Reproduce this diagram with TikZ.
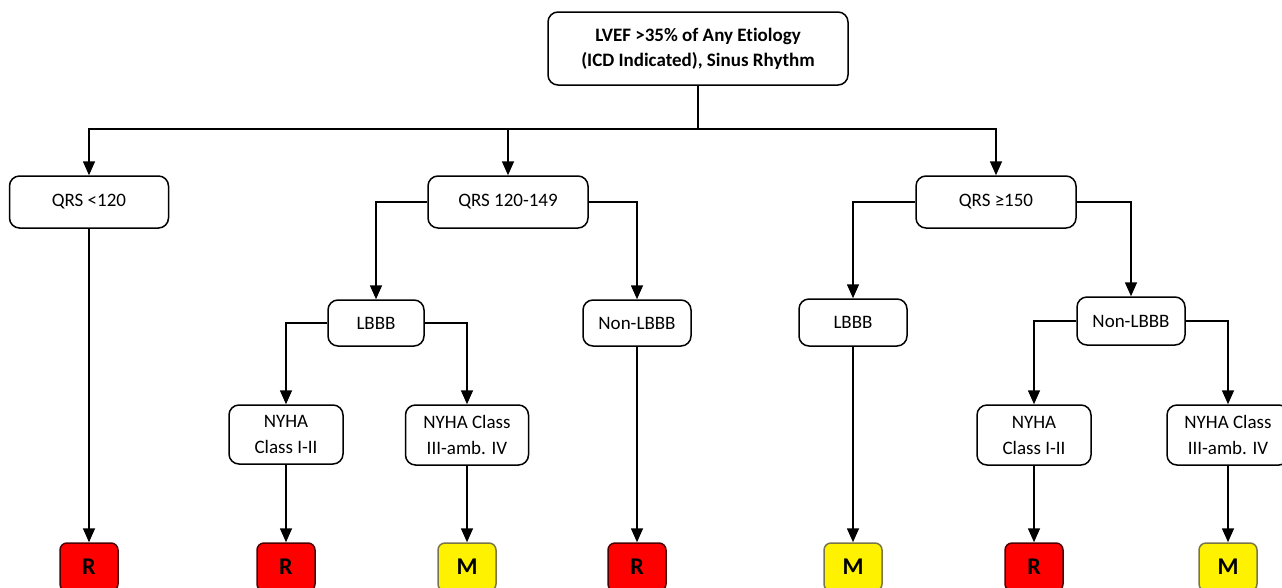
\documentclass[tikz,border=0pt]{standalone}
\usepackage{fontspec}
\setmainfont{Carlito}[RawFeature=-liga]
\usetikzlibrary{arrows.meta}
\begin{document}
\begin{tikzpicture}[x=1pt,y=-1pt,
  box/.style={draw, line width=1.5pt, rounded corners=10pt, fill=white, align=center,
    inner sep=0pt, font=\fontsize{19}{23}\selectfont},
  outr/.style={draw=black!70!red, line width=1.5pt, rounded corners=7pt, fill=red,
    minimum width=58pt, minimum height=48pt, inner sep=0pt, font=\fontsize{24}{26}\selectfont\bfseries},
  outm/.style={outr, draw=black!60!yellow, fill=yellow},
  link/.style={line width=1.6pt},
  arr/.style={link, -{Triangle[length=14pt,width=12pt]}}]
\useasboundingbox (0,0) rectangle (1282,587);
\begin{scope}
\clip (0,0) rectangle (1282,587);
\node[box, minimum width=300pt, minimum height=73pt, font=\fontsize{19}{25}\selectfont\bfseries] (top) at (698,48.5) {LVEF >35\% of Any Etiology\\(ICD Indicated), Sinus Rhythm};
\coordinate (hub) at (698,129);
\node[box, minimum width=159pt, minimum height=52pt] (q1) at (89,202) {QRS <120};
\node[box, minimum width=160pt, minimum height=52pt] (q2) at (508,202) {QRS 120-149};
\node[box, minimum width=160pt, minimum height=52pt] (q3) at (996,202) {QRS ≥150};
\node[box, minimum width=96pt, minimum height=46pt] (lb1) at (376,323) {LBBB};
\node[box, minimum width=108pt, minimum height=46pt] (nl1) at (637,323) {Non-LBBB};
\node[box, minimum width=108pt, minimum height=47pt] (lb2) at (853,322.5) {LBBB};
\node[box, minimum width=108pt, minimum height=48pt] (nl2) at (1131,321) {Non-LBBB};
\node[box, minimum width=114pt, minimum height=59pt, font=\fontsize{19}{26}\selectfont] (ny1) at (286,434.5) {NYHA\\Class I-II};
\node[box, minimum width=123pt, minimum height=60pt, font=\fontsize{19}{26}\selectfont] (ny2) at (467,435) {NYHA Class\\III-amb. IV};
\node[box, minimum width=114pt, minimum height=60pt, font=\fontsize{19}{26}\selectfont] (ny3) at (1034,435) {NYHA\\Class I-II};
\node[box, minimum width=122pt, minimum height=60pt, font=\fontsize{19}{26}\selectfont] (ny4) at (1228,435) {NYHA Class\\III-amb. IV};
\node[outr] (o1) at (89,567) {R};
\node[outr] (o2) at (286,567) {R};
\node[outm] (o3) at (467,567) {M};
\node[outr] (o4) at (637,567) {R};
\node[outm] (o5) at (853,567) {M};
\node[outr] (o6) at (1034,567) {R};
\node[outm] (o7) at (1228,567) {M};
\draw[link] (top.south) -- (hub);
\draw[arr] (hub) -| (q1.north);
\draw[arr] (hub) -| (q2.north);
\draw[arr] (hub) -| (q3.north);
\draw[arr] (q1.south) -- (o1.north);
\draw[arr] (q2.west) -| (lb1.north);
\draw[arr] (q2.east) -| (nl1.north);
\draw[arr] (q3.west) -| (lb2.north);
\draw[arr] (q3.east) -| (nl2.north);
\draw[arr] (lb1.west) -| (ny1.north);
\draw[arr] (lb1.east) -| (ny2.north);
\draw[arr] (nl2.west) -| (ny3.north);
\draw[arr] (nl2.east) -| (ny4.north);
\draw[arr] (ny1.south) -- (o2.north);
\draw[arr] (ny2.south) -- (o3.north);
\draw[arr] (nl1.south) -- (o4.north);
\draw[arr] (lb2.south) -- (o5.north);
\draw[arr] (ny3.south) -- (o6.north);
\draw[arr] (ny4.south) -- (o7.north);
\end{scope}
\end{tikzpicture}
\end{document}
